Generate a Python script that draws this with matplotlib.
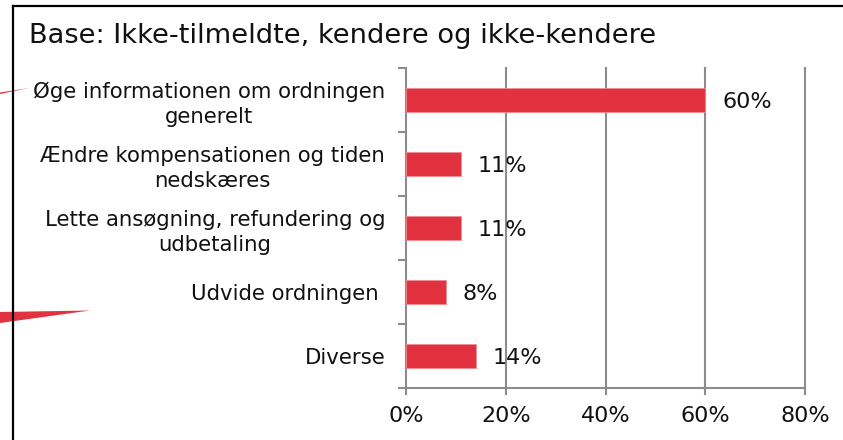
import matplotlib
matplotlib.use("Agg")
import matplotlib.pyplot as plt
from matplotlib.patches import Polygon
from matplotlib.lines import Line2D
from matplotlib.ticker import FixedLocator, NullFormatter

categories = [
    "Øge informationen om ordningen\ngenerelt",
    "Ændre kompensationen og tiden\nnedskæres",
    "Lette ansøgning, refundering og\nudbetaling",
    "Udvide ordningen ",
    "Diverse",
]
values = [60, 11, 11, 8, 14]
xticks = [0, 20, 40, 60, 80]
xtick_labels = ["0%", "20%", "40%", "60%", "80%"]
title = "Base: Ikke-tilmeldte, kendere og ikke-kendere"

W, H = 843, 440
fig = plt.figure(figsize=(W / 100, H / 100), dpi=100)
plt.rcParams['font.family'] = ['DejaVu Sans']

def fx(px):
    return px / W

def fy(py):
    return 1 - py / H

ax = fig.add_axes([fx(406), fy(388), fx(805) - fx(406), fy(68) - fy(388)])

bar_color = "#E3323F"
grid_color = "#8C8C8C"
n = len(categories)
ypos = list(range(n))[::-1]
ax.barh(ypos, values, height=0.39, color=bar_color, edgecolor="#F08C94", linewidth=0.6, zorder=3)

for y, v in zip(ypos, values):
    ax.text(v + 3.4, y - 0.03, f"{v}%", va="center", ha="left", fontsize=16, color="#111111", zorder=4)

ax.set_xlim(0, 80)
ax.set_ylim(-0.5, n - 0.5)
ax.set_xticks(xticks)
ax.set_xticklabels(xtick_labels, fontsize=16)
ax.tick_params(axis="x", length=5, width=1.5, color=grid_color, pad=8, labelcolor="#111111")

ax.set_yticks(ypos)
ax.set_yticklabels(categories, fontsize=15.3, ha="right", multialignment="center", linespacing=1.3)
ax.tick_params(axis="y", which="major", length=0, pad=15, labelcolor="#111111")
ax.yaxis.set_minor_locator(FixedLocator([i - 0.5 for i in range(n + 1)]))
ax.yaxis.set_minor_formatter(NullFormatter())
ax.tick_params(axis="y", which="minor", length=6, width=1.5, color=grid_color)

for x in xticks[1:]:
    ax.axvline(x, color=grid_color, linewidth=1.5, zorder=1, clip_on=False)

for s in ["top", "right"]:
    ax.spines[s].set_visible(False)
for s in ["left", "bottom"]:
    ax.spines[s].set_color(grid_color)
    ax.spines[s].set_linewidth(1.5)

fig.text(fx(29), fy(36), title, fontsize=19.6, va="center", ha="left", color="#111111")

# frame lines
fig.add_artist(Line2D([fx(12.5), fx(12.5)], [fy(6.5), fy(440)], color="black", linewidth=1.6))
fig.add_artist(Line2D([fx(12.5), fx(843)], [fy(6.5), fy(6.5)], color="black", linewidth=1.6))

# red decorations
fig.add_artist(Polygon([(fx(0), fy(92.5)), (fx(29), fy(88)), (fx(0), fy(94))],
                       closed=True, color=bar_color, linewidth=0))
fig.add_artist(Polygon([(fx(0), fy(312)), (fx(90), fy(310.5)), (fx(0), fy(323))],
                       closed=True, color=bar_color, linewidth=0))

fig.savefig("out.png", dpi=100)
